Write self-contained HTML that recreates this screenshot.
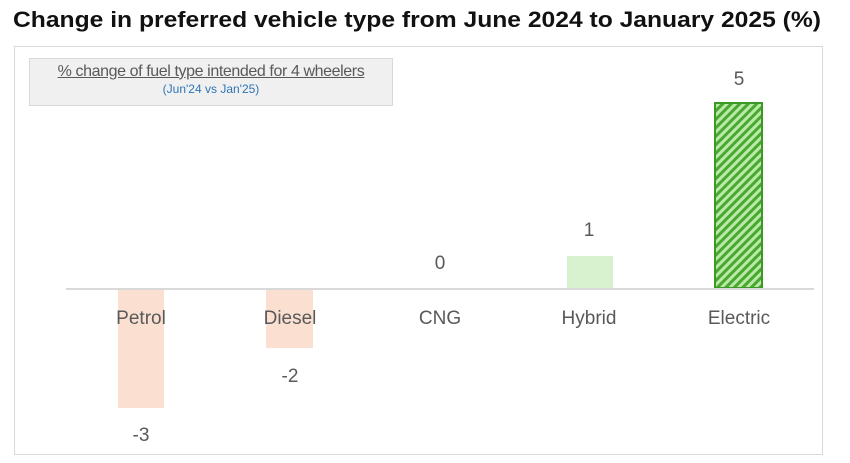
<!DOCTYPE html>
<html><head><style>
body{margin:0;width:850px;height:463px;background:#fff;overflow:hidden;position:relative;font-family:"Liberation Sans",sans-serif}
.t{position:absolute;left:13px;top:7px;font-size:22px;font-weight:bold;color:#111;white-space:nowrap;transform:scaleX(1.12);transform-origin:left top}
.frame{position:absolute;left:14px;top:46px;width:809px;height:409px;border:1.5px solid #d9d9d9;box-sizing:border-box}
.leg{position:absolute;left:29px;top:58px;width:364px;height:48px;background:#f0f0f0;border:1.5px solid #d9d9d9;box-sizing:border-box;text-align:center}
.l1{font-size:16px;color:#595959;text-decoration:underline;margin-top:4px;white-space:nowrap;letter-spacing:-0.4px}
.l2{font-size:12px;color:#2e75b6;margin-top:1px}
.ax{position:absolute;left:66px;top:288px;width:748px;height:2px;background:#d9d9d9}
.b{position:absolute}
.lb{position:absolute;font-size:19px;color:#595959;transform:translateX(-50%);white-space:nowrap}
</style></head><body>
<div class="t">Change in preferred vehicle type from June 2024 to January 2025 (%)</div>
<div class="frame"></div>
<div class="leg"><div class="l1">% change of fuel type intended for 4 wheelers</div><div class="l2">(Jun'24 vs Jan'25)</div></div>
<div class="b" style="left:118px;top:289px;width:46px;height:119px;background:#fbe0d2"></div>
<div class="b" style="left:266px;top:289px;width:47px;height:59px;background:#fbe0d2"></div>
<div class="b" style="left:567px;top:256px;width:46px;height:32px;background:#d8f2d0"></div>
<svg class="b" style="left:714px;top:102px" width="49" height="187">
<defs><pattern id="p" width="6" height="6" patternUnits="userSpaceOnUse" patternTransform="rotate(45)"><rect width="6" height="6" fill="#b9eaa6"/><rect width="3" height="6" fill="#4aa832"/></pattern></defs>
<rect x="1" y="1" width="47" height="185" fill="url(#p)" stroke="#3a9a25" stroke-width="2"/></svg>
<div class="ax"></div>
<div class="lb" style="left:141px;top:308px">Petrol</div>
<div class="lb" style="left:290px;top:308px">Diesel</div>
<div class="lb" style="left:440px;top:308px">CNG</div>
<div class="lb" style="left:589px;top:308px">Hybrid</div>
<div class="lb" style="left:739px;top:308px">Electric</div>
<div class="lb" style="left:141px;top:425px">-3</div>
<div class="lb" style="left:290px;top:366px">-2</div>
<div class="lb" style="left:440px;top:253px">0</div>
<div class="lb" style="left:589px;top:220px">1</div>
<div class="lb" style="left:739px;top:69px">5</div>
</body></html>
